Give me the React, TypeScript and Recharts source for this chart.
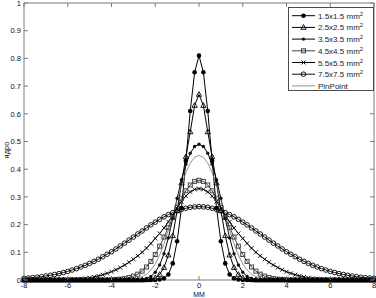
import React from 'react';
import { LineChart, Line, XAxis, YAxis, ReferenceArea } from 'recharts';

const xValues = [
  -8, -7.8, -7.6, -7.4, -7.2, -7, -6.8, -6.6, -6.4, -6.2,
  -6, -5.8, -5.6, -5.4, -5.2, -5, -4.8, -4.6, -4.4, -4.2,
  -4, -3.8, -3.6, -3.4, -3.2, -3, -2.8, -2.6, -2.4, -2.2,
  -2, -1.8, -1.6, -1.4, -1.2, -1, -0.8, -0.6, -0.4, -0.2,
  0,
  0.2, 0.4, 0.6, 0.8, 1, 1.2, 1.4, 1.6, 1.8, 2,
  2.2, 2.4, 2.6, 2.8, 3, 3.2, 3.4, 3.6, 3.8, 4,
  4.2, 4.4, 4.6, 4.8, 5, 5.2, 5.4, 5.6, 5.8, 6,
  6.2, 6.4, 6.6, 6.8, 7, 7.2, 7.4, 7.6, 7.8, 8,
];

const size15 = [
  0, 0, 0, 0, 0, 0, 0, 0, 0, 0,
  0, 0, 0, 0, 0, 0, 0, 0, 0, 0,
  0, 0, 0, 0, 0, 0, 0, 0, 0, 0,
  0, 0.002, 0.006, 0.02, 0.06, 0.14, 0.26, 0.43, 0.61, 0.75,
  0.81,
  0.75, 0.61, 0.43, 0.26, 0.14, 0.06, 0.02, 0.006, 0.002, 0,
  0, 0, 0, 0, 0, 0, 0, 0, 0, 0,
  0, 0, 0, 0, 0, 0, 0, 0, 0, 0,
  0, 0, 0, 0, 0, 0, 0, 0, 0, 0,
];

const size25 = [
  0, 0, 0, 0, 0, 0, 0, 0, 0, 0,
  0, 0, 0, 0, 0, 0, 0, 0, 0, 0,
  0, 0, 0, 0, 0, 0, 0, 0, 0.001, 0.003,
  0.008, 0.02, 0.045, 0.09, 0.16, 0.25, 0.35, 0.445, 0.535, 0.63,
  0.67,
  0.63, 0.535, 0.445, 0.35, 0.25, 0.16, 0.09, 0.045, 0.02, 0.008,
  0.003, 0.001, 0, 0, 0, 0, 0, 0, 0, 0,
  0, 0, 0, 0, 0, 0, 0, 0, 0, 0,
  0, 0, 0, 0, 0, 0, 0, 0, 0, 0,
];

const size35 = [
  0, 0, 0, 0, 0, 0, 0, 0, 0, 0,
  0, 0, 0, 0, 0, 0, 0, 0, 0, 0,
  0, 0, 0, 0, 0, 0, 0.001, 0.002, 0.006, 0.013,
  0.028, 0.054, 0.095, 0.152, 0.222, 0.295, 0.362, 0.418, 0.458, 0.482,
  0.49,
  0.482, 0.458, 0.418, 0.362, 0.295, 0.222, 0.152, 0.095, 0.054, 0.028,
  0.013, 0.006, 0.002, 0.001, 0, 0, 0, 0, 0, 0,
  0, 0, 0, 0, 0, 0, 0, 0, 0, 0,
  0, 0, 0, 0, 0, 0, 0, 0, 0, 0,
];

const size45 = [
  0, 0, 0, 0, 0, 0, 0, 0, 0, 0,
  0, 0, 0, 0, 0, 0, 0, 0, 0, 0,
  0.001, 0.002, 0.003, 0.005, 0.009, 0.014, 0.021, 0.032, 0.047, 0.067,
  0.092, 0.122, 0.155, 0.19, 0.226, 0.262, 0.295, 0.322, 0.343, 0.356,
  0.36,
  0.356, 0.343, 0.322, 0.295, 0.262, 0.226, 0.19, 0.155, 0.122, 0.092,
  0.067, 0.047, 0.032, 0.021, 0.014, 0.009, 0.005, 0.003, 0.002, 0.001,
  0, 0, 0, 0, 0, 0, 0, 0, 0, 0,
  0, 0, 0, 0, 0, 0, 0, 0, 0, 0,
];

const size55 = [
  0, 0, 0, 0, 0, 0, 0, 0, 0, 0,
  0.001, 0.002, 0.003, 0.004, 0.006, 0.008, 0.011, 0.015, 0.019, 0.024,
  0.03, 0.037, 0.045, 0.054, 0.064, 0.075, 0.087, 0.1, 0.115, 0.132,
  0.15, 0.168, 0.188, 0.21, 0.235, 0.26, 0.283, 0.303, 0.318, 0.327,
  0.33,
  0.327, 0.318, 0.303, 0.283, 0.26, 0.235, 0.21, 0.188, 0.168, 0.15,
  0.132, 0.115, 0.1, 0.087, 0.075, 0.064, 0.054, 0.045, 0.037, 0.03,
  0.024, 0.019, 0.015, 0.011, 0.008, 0.006, 0.004, 0.003, 0.002, 0.001,
  0, 0, 0, 0, 0, 0, 0, 0, 0, 0,
];

const size75 = [
  0.006, 0.007, 0.0085, 0.01, 0.012, 0.0145, 0.017, 0.02, 0.023, 0.027,
  0.031, 0.036, 0.041, 0.047, 0.053, 0.06, 0.067, 0.075, 0.084, 0.093,
  0.102, 0.112, 0.123, 0.133, 0.144, 0.155, 0.166, 0.177, 0.188, 0.199,
  0.209, 0.219, 0.228, 0.236, 0.243, 0.25, 0.255, 0.259, 0.2625, 0.264,
  0.265,
  0.264, 0.2625, 0.259, 0.255, 0.25, 0.243, 0.236, 0.228, 0.219, 0.209,
  0.199, 0.188, 0.177, 0.166, 0.155, 0.144, 0.133, 0.123, 0.112, 0.102,
  0.093, 0.084, 0.075, 0.067, 0.06, 0.053, 0.047, 0.041, 0.036, 0.031,
  0.027, 0.023, 0.02, 0.017, 0.0145, 0.012, 0.01, 0.0085, 0.007, 0.006,
];

const pinPoint = [
  0, 0, 0, 0, 0, 0, 0, 0, 0, 0,
  0, 0, 0, 0, 0, 0, 0, 0, 0, 0,
  0, 0, 0, 0, 0.001, 0.003, 0.006, 0.012, 0.021, 0.036,
  0.058, 0.09, 0.131, 0.18, 0.234, 0.29, 0.343, 0.388, 0.422, 0.443,
  0.45,
  0.443, 0.422, 0.388, 0.343, 0.29, 0.234, 0.18, 0.131, 0.09, 0.058,
  0.036, 0.021, 0.012, 0.006, 0.003, 0.001, 0, 0, 0, 0,
  0, 0, 0, 0, 0, 0, 0, 0, 0, 0,
  0, 0, 0, 0, 0, 0, 0, 0, 0, 0,
];

const xTicks = [-8, -6, -4, -2, 0, 2, 4, 6, 8];
const yTicks = [0, 0.1, 0.2, 0.3, 0.4, 0.5, 0.6, 0.7, 0.8, 0.9, 1];

type Marker = 'disc' | 'triangle' | 'dot' | 'square' | 'cross' | 'ring' | 'none';

interface SeriesDef {
  key: string;
  label: string;
  sup: boolean;
  values: number[];
  marker: Marker;
  color: string;
  width: number;
}

const series: SeriesDef[] = [
  { key: 's15', label: '1.5x1.5 mm', sup: true, values: size15, marker: 'disc', color: '#000', width: 1 },
  { key: 's25', label: '2.5x2.5 mm', sup: true, values: size25, marker: 'triangle', color: '#000', width: 1 },
  { key: 's35', label: '3.5x3.5 mm', sup: true, values: size35, marker: 'dot', color: '#000', width: 1 },
  { key: 's45', label: '4.5x4.5 mm', sup: true, values: size45, marker: 'square', color: '#444', width: 1 },
  { key: 's55', label: '5.5x5.5 mm', sup: true, values: size55, marker: 'cross', color: '#000', width: 1 },
  { key: 's75', label: '7.5x7.5 mm', sup: true, values: size75, marker: 'ring', color: '#111', width: 1 },
  { key: 'pin', label: 'PinPoint', sup: false, values: pinPoint, marker: 'none', color: '#777', width: 0.8 },
];

const drawOrder = ['s75', 's55', 's45', 's35', 's25', 's15', 'pin'];

const data = xValues.map((x, i) => {
  const row: Record<string, number> = { x };
  series.forEach((s) => {
    row[s.key] = s.values[i];
  });
  return row;
});

const AXIS = '#7a7a7a';
const FONT = '"Liberation Sans", Arial, Helvetica, sans-serif';
const PLOT = { left: 24, right: 374, top: 3, bottom: 280 };

function drawMarker(marker: Marker, cx: number, cy: number, color: string, key: string) {
  switch (marker) {
    case 'disc':
      return <circle key={key} cx={cx} cy={cy} r={2.3} fill="#000" />;
    case 'triangle':
      return (
        <polygon
          key={key}
          points={`${cx},${cy - 2.8} ${cx - 2.6},${cy + 1.9} ${cx + 2.6},${cy + 1.9}`}
          fill="none"
          stroke="#000"
          strokeWidth={0.9}
        />
      );
    case 'dot':
      return <circle key={key} cx={cx} cy={cy} r={1.7} fill="#111" />;
    case 'square':
      return <rect key={key} x={cx - 2} y={cy - 2} width={4} height={4} fill="none" stroke={color} strokeWidth={1} />;
    case 'cross':
      return (
        <g key={key} stroke="#000" strokeWidth={0.9}>
          <line x1={cx - 2} y1={cy - 2} x2={cx + 2} y2={cy + 2} />
          <line x1={cx - 2} y1={cy + 2} x2={cx + 2} y2={cy - 2} />
        </g>
      );
    case 'ring':
      return <circle key={key} cx={cx} cy={cy} r={2.3} fill="none" stroke="#000" strokeWidth={0.9} />;
    default:
      return <g key={key} />;
  }
}

const makeDot = (s: SeriesDef) => (props: any) => {
  const { cx, cy, index } = props;
  const key = `${s.key}-${index}`;
  if (cx == null || cy == null) return <g key={key} />;
  return drawMarker(s.marker, cx, cy, s.color, key);
};

const XTick = (props: any) => {
  const { x, payload } = props;
  return (
    <g>
      <line x1={x} x2={x} y1={PLOT.bottom} y2={PLOT.bottom - 4} stroke={AXIS} />
      <line x1={x} x2={x} y1={PLOT.top} y2={PLOT.top + 4} stroke={AXIS} />
      <text x={x} y={PLOT.bottom + 8} textAnchor="middle" fontSize={7.5} fontFamily={FONT} fill="#111">
        {payload.value}
      </text>
    </g>
  );
};

const YTick = (props: any) => {
  const { y, payload } = props;
  return (
    <g>
      <line x1={PLOT.left} x2={PLOT.left + 4} y1={y} y2={y} stroke={AXIS} />
      <line x1={PLOT.right} x2={PLOT.right - 4} y1={y} y2={y} stroke={AXIS} />
      <text x={PLOT.left - 3} y={y + 2.7} textAnchor="end" fontSize={7.5} fontFamily={FONT} fill="#111">
        {String(payload.value)}
      </text>
    </g>
  );
};

const LegendBox = () => {
  const w = 86;
  const h = 84;
  const rowH = 11.7;
  return (
    <svg width={w} height={h} style={{ position: 'absolute', left: 288, top: 7, overflow: 'visible' }}>
      <rect x={0.5} y={0.5} width={w - 1} height={h - 1} fill="#fff" stroke="#222" strokeWidth={0.8} />
      {series.map((s, i) => {
        const cy = 8.7 + i * rowH;
        return (
          <g key={s.key}>
            <line x1={4} x2={27} y1={cy} y2={cy} stroke={s.color} strokeWidth={s.width} />
            {drawMarker(s.marker, 15.5, cy, s.color, `lg-${s.key}`)}
            <text x={30} y={cy + 3} fontSize={8} fontFamily={FONT} fill="#222">
              {s.label}
              {s.sup ? (
                <tspan dy={-3} fontSize={6}>
                  2
                </tspan>
              ) : null}
            </text>
          </g>
        );
      })}
    </svg>
  );
};

export default function App() {
  const ordered = drawOrder.map((k) => series.find((s) => s.key === k)!);
  return (
    <div style={{ position: 'absolute', left: 0, top: 0, width: 376, height: 298, background: '#fff' }}>
      <LineChart width={376} height={298} data={data} margin={{ top: 3, right: 2, bottom: 0, left: 0 }}>
        <XAxis
          dataKey="x"
          type="number"
          domain={[-8, 8]}
          ticks={xTicks}
          axisLine={false}
          tickLine={false}
          tick={<XTick />}
          height={18}
          interval={0}
          label={{
            content: () => (
              <text x={199} y={296.5} textAnchor="middle" fontSize={7} fontFamily={FONT} fill="#111">
                MM
              </text>
            ),
          }}
        />
        <YAxis
          type="number"
          domain={[0, 1]}
          ticks={yTicks}
          axisLine={false}
          tickLine={false}
          tick={<YTick />}
          width={24}
          interval={0}
          label={{
            content: () => (
              <text
                x={9}
                y={150}
                textAnchor="middle"
                fontSize={7.5}
                fontFamily={FONT}
                fill="#111"
                transform="rotate(-90 9 150)"
              >
                ядро
              </text>
            ),
          }}
        />
        <ReferenceArea x1={-8} x2={8} y1={0} y2={1} fill="none" fillOpacity={0} stroke={AXIS} strokeWidth={1} />
        {ordered.map((s) => (
          <Line
            key={s.key}
            dataKey={s.key}
            type="linear"
            stroke={s.color}
            strokeWidth={s.width}
            dot={s.marker === 'none' ? false : makeDot(s)}
            activeDot={false}
            isAnimationActive={false}
          />
        ))}
      </LineChart>
      <LegendBox />
    </div>
  );
}
